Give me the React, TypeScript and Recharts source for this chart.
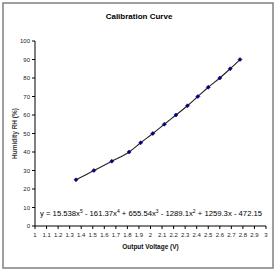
import React from 'react';
import { LineChart, Line, XAxis, YAxis, Label } from 'recharts';

const voltages = [1.355, 1.51, 1.665, 1.815, 1.915, 2.02, 2.12, 2.22, 2.32, 2.41, 2.5, 2.6, 2.69, 2.775];
const humidity = [25, 30, 35, 40, 45, 50, 55, 60, 65, 70, 75, 80, 85, 90];
const xTicks = [1, 1.1, 1.2, 1.3, 1.4, 1.5, 1.6, 1.7, 1.8, 1.9, 2, 2.1, 2.2, 2.3, 2.4, 2.5, 2.6, 2.7, 2.8, 2.9, 3];
const yTicks = [0, 10, 20, 30, 40, 50, 60, 70, 80, 90, 100];
const title = 'Calibration Curve';
const xTitle = 'Output Voltage (V)';
const yTitle = 'Humidity RH (%)';

const data = voltages.map((v, i) => ({ v, h: humidity[i] }));

const font = 'Liberation Sans, Arial, sans-serif';

const Diamond = (props: any) => {
  const { cx, cy } = props;
  if (cx == null || cy == null) return null;
  const r = 2;
  return (
    <polygon
      points={`${cx},${cy - r} ${cx + r},${cy} ${cx},${cy + r} ${cx - r},${cy}`}
      fill="#000080"
      stroke="#000080"
      strokeWidth={0.6}
    />
  );
};

const fmt = (t: number) => {
  const s = t.toFixed(1);
  return s.endsWith('.0') ? s.slice(0, -2) : s;
};

export default function App() {
  return (
    <div style={{ position: 'absolute', left: 0, top: 0, width: 279, height: 273, background: '#fff' }}>
      <LineChart
        width={279}
        height={273}
        data={data}
        margin={{ top: 41, right: 13, left: 5, bottom: 27 }}
      >
        <XAxis
          dataKey="v"
          type="number"
          domain={[1, 3]}
          ticks={xTicks}
          interval={0}
          tickFormatter={fmt}
          height={20}
          tickSize={3}
          tickMargin={4}
          stroke="#000"
          tick={{ fontSize: 6, fill: '#222', fontFamily: font }}
        >
          <Label value={xTitle} position="insideBottom" offset={-3} style={{ fontSize: 6.5, fontWeight: 'bold', fill: '#111', fontFamily: font }} />
        </XAxis>
        <YAxis
          type="number"
          domain={[0, 100]}
          ticks={yTicks}
          interval={0}
          width={30}
          tickSize={3}
          tickMargin={2}
          stroke="#000"
          tick={{ fontSize: 6, fill: '#222', fontFamily: font }}
        >
          <Label value={yTitle} angle={-90} position="insideLeft" offset={10} style={{ fontSize: 6.5, fontWeight: 'bold', fill: '#333', fontFamily: font, textAnchor: 'middle' }} />
        </YAxis>
        <Line
          dataKey="h"
          type="monotone"
          stroke="#222"
          strokeWidth={1.1}
          dot={<Diamond />}
          activeDot={false}
          isAnimationActive={false}
        />
      </LineChart>
      <svg width={279} height={273} style={{ position: 'absolute', left: 0, top: 0, pointerEvents: 'none' }}>
        <rect x={3} y={3} width={270} height={265} fill="none" stroke="#808080" strokeWidth={1.5} />
        <text x={139} y={19} textAnchor="middle" fontSize={8} fontWeight="bold" fontFamily={font} fill="#000">
          {title}
        </text>
        <text x={40} y={216} fontSize={7.7} fontFamily={font} fill="#000">
          <tspan>y = 15.538x</tspan>
          <tspan dy={-3} fontSize={5}>5</tspan>
          <tspan dy={3}> - 161.37x</tspan>
          <tspan dy={-3} fontSize={5}>4</tspan>
          <tspan dy={3}> + 655.54x</tspan>
          <tspan dy={-3} fontSize={5}>3</tspan>
          <tspan dy={3}> - 1289.1x</tspan>
          <tspan dy={-3} fontSize={5}>2</tspan>
          <tspan dy={3}> + 1259.3x - 472.15</tspan>
        </text>
      </svg>
    </div>
  );
}
